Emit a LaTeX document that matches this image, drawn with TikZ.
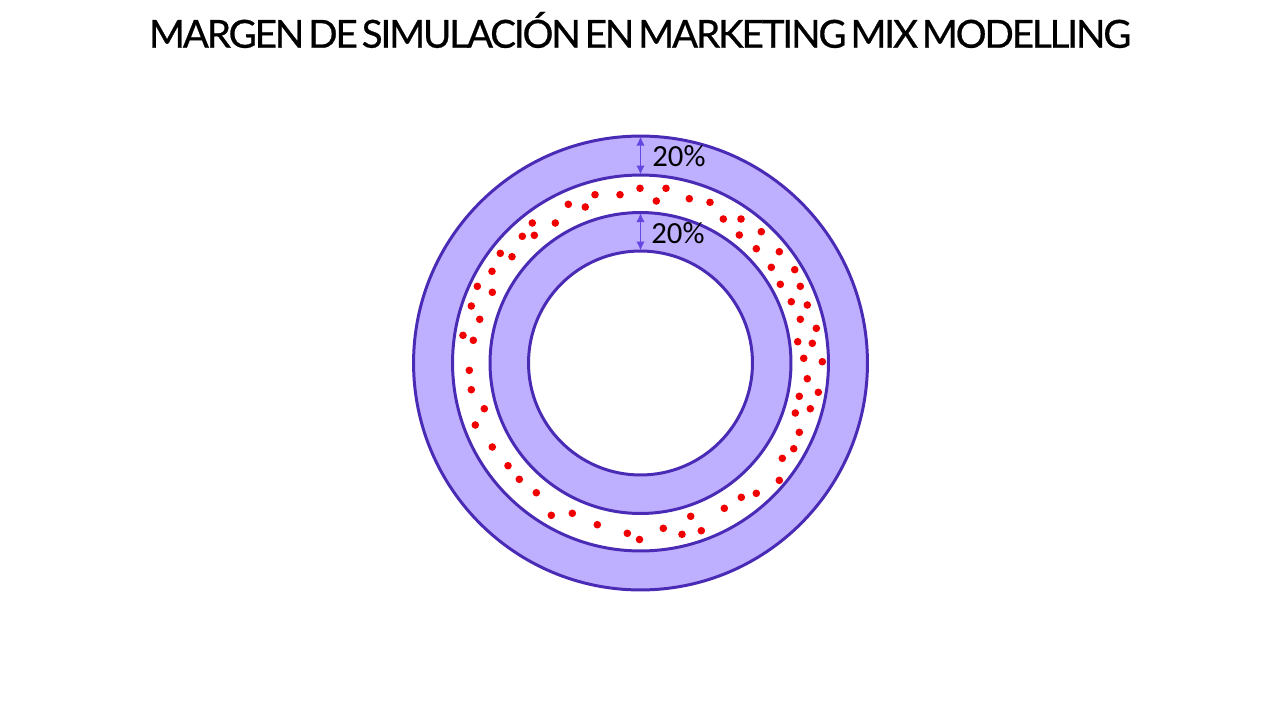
\documentclass[tikz,border=0pt]{standalone}
\usepackage{fontspec}
\setmainfont{Lato}
\newfontfamily\titlefont{Lato}[LetterSpace=-5.6,WordSpace=0.5,FakeBold=0.6]
\newfontfamily\labelfont{Carlito}
\usetikzlibrary{arrows.meta,positioning}
\definecolor{ringfill}{HTML}{BFAFFF}
\definecolor{ringline}{HTML}{4A2BB5}
\definecolor{gapline}{HTML}{6646E0}
\definecolor{dotred}{HTML}{F00000}

\begin{document}
\begin{tikzpicture}[
    x=0.02cm, y=-0.02cm,
    ring/.style={circle,draw=ringline,line width=1.7pt,inner sep=0pt,outer sep=0pt},
    gap/.style={{Latex[length=1.8mm,width=1.7mm]}-{Latex[length=1.8mm,width=1.7mm]},gapline,line width=0.8pt,shorten <=0.3pt,shorten >=0.3pt},
    pct/.style={font=\labelfont\fontsize{17.5}{20}\selectfont,anchor=west,inner sep=0pt}
]
\useasboundingbox (0,0) rectangle (1280,720);

% title
\node[font=\titlefont\fontsize{22}{26}\selectfont,inner sep=0pt] (title) at (640,30) {MARGEN DE SIMULACIÓN EN MARKETING MIX MODELLING};

% rings
\node[ring,fill=ringfill,minimum size=9.08cm] (outer) at (640.5,363) {};
\node[ring,fill=white,minimum size=7.52cm] (middle) at (640.5,363) {};
\node[ring,fill=ringfill,minimum size=6.02cm] (band) at (640.5,363) {};
\node[ring,fill=white,minimum size=4.48cm] (inner) at (640.5,363) {};

% simulated points
\foreach \px/\py in {
  640/188.3, 620/194.7, 595/194.7, 568.3/204.3, 585.3/207, 532.3/223, 555.3/223,
  522.3/236.3, 534.3/235.3, 500.3/253.3, 512/256.7, 492/271.3, 477.3/286.3,
  492.3/292.3, 471.3/306, 479.7/319.3, 463/335.3, 473.3/340.3,
  666/188.3, 656.3/201, 689.3/198.7, 710/202.3, 723.3/219, 741/219, 739.3/235,
  761.3/231.7, 756.3/248.7, 779.3/251.7, 771.3/267.3, 794.7/269.7, 780.3/284.3,
  800.3/286.3, 791.3/301.7, 807.3/305, 800.3/319.3, 816.3/328.3, 797.7/341.7,
  812.3/343.3, 803.7/358.3, 822.3/361.7,
  807.3/378.7, 799.3/396.3, 818.3/392.3, 810.3/408.7, 795.3/413, 799.3/432.3,
  793.7/448.7, 782.3/458.3, 779.3/480.3, 756.3/493.3, 741.3/497.3, 724.3/508.3,
  690.7/516.3, 663.3/528.3, 682/534.3, 701.3/530.7, 639.5/539.5,
  469.3/370.3, 471.3/389.7, 484.3/408.7, 475.3/425, 492.3/447, 508/465.7,
  519.3/479.3, 536.3/492.7, 551.3/515.3, 572.3/513.3, 597.3/524.7, 627.3/533.3}
  \fill[dotred] (\px,\py) circle[radius=0.076cm];

% margins
\draw[gap] (outer.north) -- (middle.north);
\draw[gap] (band.north) -- (inner.north);
\node[pct] (pctout) at (652,156) {20\%};
\node[pct] (pctin) at (651,233) {20\%};
\end{tikzpicture}
\end{document}
